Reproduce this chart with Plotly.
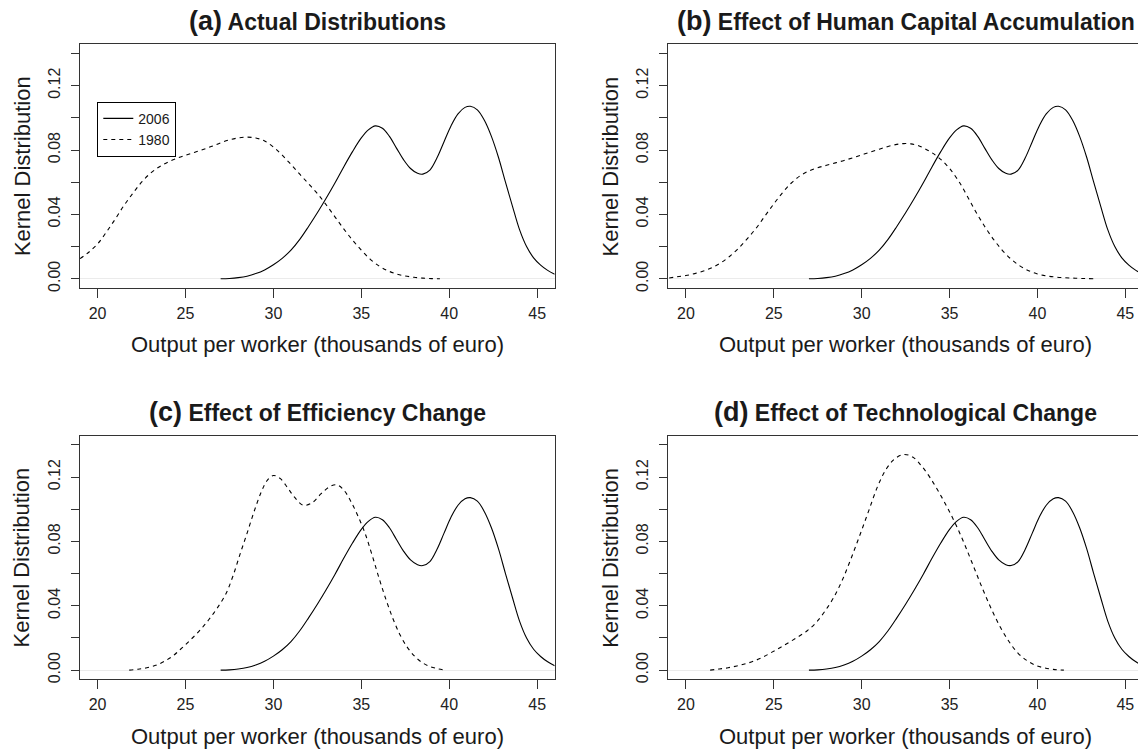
import plotly.graph_objects as go

# ---------------- data ----------------
x_2006 = [27.0, 27.5, 28.0, 28.5, 29.0, 29.5, 30.0, 30.5, 31.0, 31.5, 32.0, 32.5,
          33.0, 33.5, 34.0, 34.5, 35.0, 35.4, 35.8, 36.2, 36.6, 37.0, 37.4, 37.8,
          38.2, 38.5, 38.9, 39.3, 39.7, 40.1, 40.5, 40.9, 41.2, 41.6, 42.0, 42.4,
          42.8, 43.2, 43.6, 44.0, 44.4, 44.8, 45.2, 45.6, 46.0]
y_2006 = [0.0000, 0.0002, 0.0007, 0.0016, 0.0032, 0.0055, 0.0087, 0.0127, 0.0178,
          0.0245, 0.0325, 0.0410, 0.0500, 0.0595, 0.0695, 0.0790, 0.0875, 0.0925,
          0.0950, 0.0935, 0.0885, 0.0812, 0.0740, 0.0685, 0.0655, 0.0650, 0.0675,
          0.0750, 0.0850, 0.0950, 0.1025, 0.1065, 0.1072, 0.1050, 0.0985, 0.0885,
          0.0755, 0.0600, 0.0450, 0.0305, 0.0200, 0.0130, 0.0085, 0.0052, 0.0028]

x_1980_actual = [19.0, 19.5, 20.0, 20.5, 21.0, 21.5, 22.0, 22.5, 23.0, 23.5, 24.0,
                 24.5, 25.0, 25.5, 26.0, 26.5, 27.0, 27.5, 28.0, 28.5, 29.0, 29.5,
                 30.0, 30.5, 31.0, 31.5, 32.0, 32.5, 33.0, 33.5, 34.0, 34.5, 35.0,
                 35.5, 36.0, 36.5, 37.0, 37.5, 38.0, 38.5, 39.0, 39.47]
y_1980_actual = [0.0125, 0.0165, 0.0216, 0.0290, 0.0370, 0.0455, 0.0530, 0.0600,
                 0.0655, 0.0695, 0.0725, 0.0748, 0.0767, 0.0785, 0.0803, 0.0823,
                 0.0845, 0.0863, 0.0875, 0.0880, 0.0875, 0.0856, 0.0818, 0.0768,
                 0.0710, 0.0650, 0.0590, 0.0530, 0.0460, 0.0385, 0.0310, 0.0240,
                 0.0178, 0.0122, 0.0080, 0.0050, 0.0030, 0.0017, 0.0009, 0.0004,
                 0.0001, 0.0000]

x_1980_human = [19.05, 19.5, 20.0, 20.5, 21.0, 21.5, 22.0, 22.5, 23.0, 23.5, 24.0,
                24.5, 25.0, 25.5, 26.0, 26.5, 27.0, 27.5, 28.0, 28.5, 29.0, 29.5,
                30.0, 30.5, 31.0, 31.5, 32.0, 32.4, 32.8, 33.2, 33.6, 34.0, 34.5,
                35.0, 35.5, 36.0, 36.5, 37.0, 37.5, 38.0, 38.5, 39.0, 39.5, 40.0,
                40.5, 41.0, 41.5, 42.0, 42.5, 43.2]
y_1980_human = [0.0005, 0.0012, 0.0020, 0.0032, 0.0048, 0.0070, 0.0100, 0.0140,
                0.0190, 0.0250, 0.0315, 0.0390, 0.0465, 0.0535, 0.0595, 0.0640,
                0.0670, 0.0690, 0.0705, 0.0720, 0.0735, 0.0752, 0.0770, 0.0788,
                0.0805, 0.0822, 0.0835, 0.0840, 0.0838, 0.0828, 0.0808, 0.0783,
                0.0742, 0.0685, 0.0610, 0.0515, 0.0415, 0.0325, 0.0245, 0.0177,
                0.0122, 0.0080, 0.0050, 0.0030, 0.0018, 0.0011, 0.0007, 0.0004,
                0.0002, 0.0000]

x_1980_eff = [21.8, 22.3, 22.8, 23.3, 23.8, 24.3, 24.8, 25.3, 25.8, 26.3, 26.8,
              27.3, 27.7, 28.1, 28.5, 28.9, 29.3, 29.65, 30.0, 30.4, 30.8, 31.2,
              31.7, 32.2, 32.7, 33.2, 33.6, 34.0, 34.4, 34.8, 35.2, 35.6, 36.0,
              36.4, 36.8, 37.2, 37.6, 38.0, 38.4, 38.8, 39.3, 39.8]
y_1980_eff = [0.0000, 0.0006, 0.0015, 0.0030, 0.0055, 0.0090, 0.0138, 0.0190,
              0.0245, 0.0310, 0.0385, 0.0475, 0.0585, 0.0720, 0.0850, 0.0985,
              0.1105, 0.1180, 0.1210, 0.1190, 0.1135, 0.1075, 0.1025, 0.1040,
              0.1095, 0.1140, 0.1152, 0.1120, 0.1050, 0.0960, 0.0855, 0.0720,
              0.0575, 0.0440, 0.0320, 0.0220, 0.0145, 0.0090, 0.0052, 0.0027,
              0.0010, 0.0000]

x_1980_tech = [21.38, 21.9, 22.4, 22.9, 23.4, 23.9, 24.4, 24.9, 25.4, 25.9, 26.4,
               26.9, 27.4, 27.9, 28.4, 28.9, 29.4, 29.9, 30.4, 30.9, 31.4, 31.9,
               32.4, 32.9, 33.4, 33.9, 34.4, 34.9, 35.4, 35.9, 36.4, 36.9, 37.4,
               37.9, 38.4, 38.9, 39.4, 39.9, 40.4, 40.9, 41.5]
y_1980_tech = [0.0000, 0.0007, 0.0015, 0.0026, 0.0040, 0.0058, 0.0082, 0.0112,
               0.0143, 0.0175, 0.0208, 0.0245, 0.0295, 0.0365, 0.0450, 0.0560,
               0.0695, 0.0840, 0.0990, 0.1140, 0.1250, 0.1315, 0.1340, 0.1325,
               0.1270, 0.1195, 0.1105, 0.1005, 0.0895, 0.0770, 0.0635, 0.0500,
               0.0375, 0.0265, 0.0175, 0.0105, 0.0060, 0.0030, 0.0014, 0.0005,
               0.0000]

panel_letters = ["(a)", "(b)", "(c)", "(d)"]
panel_titles = ["Actual Distributions", "Effect of Human Capital Accumulation",
                "Effect of Efficiency Change", "Effect of Technological Change"]
series_names = ["2006", "1980"]
x_ticks = [20, 25, 30, 35, 40, 45]
y_ticks = [0.0, 0.02, 0.04, 0.06, 0.08, 0.10, 0.12, 0.14]
y_ticktext = ["0.00", "", "0.04", "", "0.08", "", "0.12", ""]
x_title = "Output per worker (thousands of euro)"
y_title = "Kernel Distribution"

dashed = [(x_1980_actual, y_1980_actual), (x_1980_human, y_1980_human),
          (x_1980_eff, y_1980_eff), (x_1980_tech, y_1980_tech)]

# ---------------- layout geometry (pixels) ----------------
W, H = 1138, 753
FONT = "Liberation Sans, Arial, Helvetica, sans-serif"
col_left = [80.0, 668.3]
col_right = [554.7, 1138.0]
box_w = 474.7
col_xrange = [[19.0, 46.0], [19.0, 45.72]]
row_top = [44.7, 438.2]
box_h = 244.6
yrange = [-0.0056, 0.1456]
AXC = "#333333"

fig = go.Figure()
for i in range(4):
    r, c = divmod(i, 2)
    n = "" if i == 0 else str(i + 1)
    xa, ya = "x" + n, "y" + n
    dx, dy = dashed[i]
    fig.add_trace(go.Scatter(x=x_2006, y=y_2006, mode="lines", name=series_names[0],
                             line=dict(color="black", width=1.1, shape="spline", smoothing=1.0),
                             xaxis=xa, yaxis=ya, showlegend=(i == 0), hoverinfo="skip"))
    fig.add_trace(go.Scatter(x=dx, y=dy, mode="lines", name=series_names[1],
                             line=dict(color="black", width=1.1, dash="4px,4px",
                                       shape="spline", smoothing=1.0),
                             xaxis=xa, yaxis=ya, showlegend=(i == 0), hoverinfo="skip"))

    top = row_top[r]
    bot = top + box_h
    dom_x = [col_left[c] / W, col_right[c] / W]
    dom_y = [1 - bot / H, 1 - top / H]
    fig.layout["xaxis" + n] = dict(
        domain=dom_x, range=col_xrange[c], anchor=ya,
        tickvals=x_ticks, ticks="outside", ticklen=9, tickwidth=1, tickcolor=AXC,
        showline=True, linecolor=AXC, linewidth=1, mirror=True,
        showgrid=False, zeroline=False,
        tickfont=dict(family=FONT, size=16, color="#222"), ticklabelstandoff=2)
    fig.layout["yaxis" + n] = dict(
        domain=dom_y, range=yrange, anchor=xa,
        tickvals=y_ticks, ticktext=y_ticktext, tickangle=-90,
        ticks="outside", ticklen=8, tickwidth=1, tickcolor=AXC,
        showline=True, linecolor=AXC, linewidth=1, mirror=(c == 0),
        showgrid=False, zeroline=True, zerolinecolor="#ebebeb", zerolinewidth=1,
        tickfont=dict(family=FONT, size=16, color="#222"), ticklabelstandoff=5)

    cx = col_left[c] + box_w / 2
    # panel title
    fig.add_annotation(
        x=cx / W, y=1 - (top - 23.5) / H, xref="paper", yref="paper",
        text="<b><span style='font-size:27px'>" + panel_letters[i] + "</span> "
             + panel_titles[i] + "</b>",
        showarrow=False, xanchor="center", yanchor="middle",
        font=dict(family=FONT, size=23, color="#1a1a1a"))
    # x axis title
    fig.add_annotation(
        x=cx / W, y=1 - (bot + 57.5) / H, xref="paper", yref="paper",
        text=x_title, showarrow=False, xanchor="center", yanchor="middle",
        font=dict(family=FONT, size=22, color="#1a1a1a"))
    # y axis title
    fig.add_annotation(
        x=(col_left[c] - 58) / W, y=1 - (top + box_h / 2) / H, xref="paper", yref="paper",
        text=y_title, textangle=-90, showarrow=False, xanchor="center", yanchor="middle",
        font=dict(family=FONT, size=22, color="#1a1a1a"))

fig.update_layout(
    width=W, height=H, margin=dict(l=0, r=0, t=0, b=0),
    paper_bgcolor="white", plot_bgcolor="white",
    showlegend=True,
    legend=dict(x=97.3 / W, y=1 - 102.3 / H, xanchor="left", yanchor="top",
                bordercolor="black", borderwidth=1, bgcolor="white",
                font=dict(family=FONT, size=14, color="#1a1a1a"),
                itemwidth=30, tracegroupgap=0),
)

fig.write_html("out.html")
